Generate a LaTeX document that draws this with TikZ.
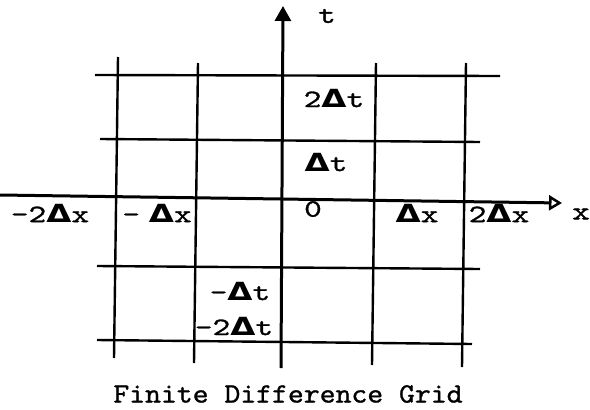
\documentclass[tikz,border=0pt]{standalone}
\usepackage{fontspec}
\newfontfamily\tw{lmmono10-regular.otf}[FakeBold=1.2,FakeStretch=1.35]
\newfontfamily\twc{lmmono10-regular.otf}[FakeBold=1.0,FakeStretch=1.08]
\newfontfamily\dv{DejaVu Sans}
\usetikzlibrary{arrows.meta}
\newcommand{\Dl}{{\dv\bfseries\scalebox{1.3}[1]{Δ}}}
\begin{document}
\begin{tikzpicture}[x=1pt,y=-1pt,
  gridline/.style={line width=2.4pt,black},
  axisline/.style={line width=3pt,black},
  lbl/.style={font=\tw\fontsize{25}{25}\selectfont,inner sep=0pt,anchor=center},
  captext/.style={font=\twc\fontsize{28}{28}\selectfont,inner sep=0pt,anchor=center}]
\useasboundingbox (0,0) rectangle (590,410);
% horizontal grid lines
\draw[gridline] (95,75) -- (500,76);
\draw[gridline] (100,139) -- (480,142);
\draw[gridline] (97,266) -- (480,269);
\draw[gridline] (97,340) -- (472,344);
% vertical grid lines
\draw[gridline] (118,57) -- (114,358);
\draw[gridline] (198,63) -- (194,363);
\draw[gridline] (376,63) -- (372,365);
\draw[gridline] (466,63) -- (462,367);
% axes
\coordinate (tb) at (281,368);
\coordinate (tt) at (283,6);
\coordinate (xl) at (0,195);
\coordinate (xr) at (562,203);
\draw[axisline,-{Triangle[length=15pt,width=16pt]}] (tb) -- (tt);
\draw[axisline,-{Triangle[open,length=13pt,width=15pt,line width=2.5pt]}] (xl) -- (xr);
% labels
\node[lbl] (lt) at (327,16) {t};
\node[lbl] (lx) at (581,214) {x};
\node[lbl] (m2x) at (50,213) {-2\Dl x};
\node[lbl] (m1x) at (157,213) {-\hspace{0.35em}\Dl x};
\node[lbl] (zero) at (313,209) {0};
\node[lbl] (p1x) at (417,213) {\Dl x};
\node[lbl] (p2x) at (499,213) {2\Dl x};
\node[lbl] (p2t) at (334,98) {2\Dl t};
\node[lbl] (p1t) at (326,162) {\Dl t};
\node[lbl] (m1t) at (240,291) {-\Dl t};
\node[lbl] (m2t) at (234,326) {-2\Dl t};
\node[captext] (caption) at (288,394) {Finite Difference Grid};
\end{tikzpicture}
\end{document}
